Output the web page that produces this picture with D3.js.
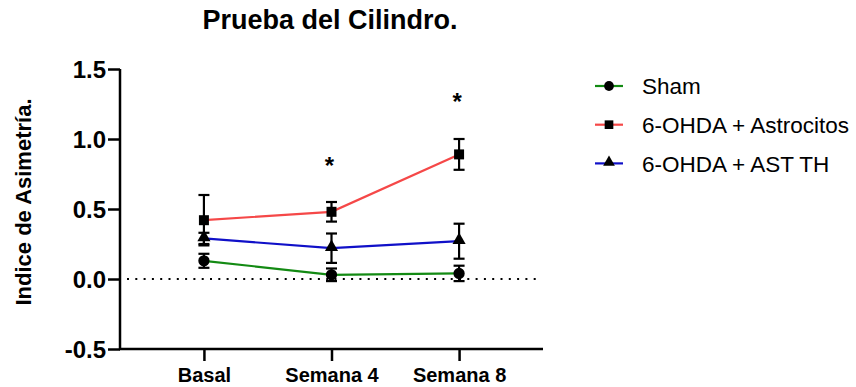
<!DOCTYPE html>
<html>
<head>
<meta charset="utf-8">
<script src="https://cdn.jsdelivr.net/npm/d3@7"></script>
<style>
  body { margin: 0; background: #fff; }
  text { font-family: "Liberation Sans", Arial, sans-serif; }
</style>
</head>
<body>
<script>
// weeks on the x axis
var categories = ["Basal", "Semana 4", "Semana 8"];
var seriesNames = ["Sham", "6-OHDA + Astrocitos", "6-OHDA + AST TH"];
var seriesColors = ["#138a13", "#f54848", "#1010c8"];
var seriesSymbols = ["circle", "square", "triangle"];

// means and SEM
var shamMean = [0.13, 0.03, 0.04];
var shamSem = [0.05, 0.045, 0.055];
var astroMean = [0.42, 0.48, 0.89];
var astroSem = [0.18, 0.07, 0.11];
var astThMean = [0.29, 0.22, 0.27];
var astThSem = [0.04, 0.105, 0.125];

// asterisk heights (in y units), null = none
var starLevel = [null, 0.85, 1.31];

var yTicks = [-0.5, 0.0, 0.5, 1.0, 1.5];
var yTickLabels = ["-0.5", "0.0", "0.5", "1.0", "1.5"];

var width = 856, height = 387;

var svg = d3.select("body").append("svg")
    .attr("width", width)
    .attr("height", height);

var x = d3.scalePoint().domain(categories).range([121, 542]).padding(0.65);
var y = d3.scaleLinear().domain([-0.5, 1.5]).range([349, 69]);

var series = [
    {name: seriesNames[0], mean: shamMean, sem: shamSem},
    {name: seriesNames[1], mean: astroMean, sem: astroSem},
    {name: seriesNames[2], mean: astThMean, sem: astThSem}
];
series.forEach(function(s, i) {
    s.color = seriesColors[i];
    s.symbol = seriesSymbols[i];
});

// title
svg.append("text")
    .attr("x", 330)
    .attr("y", 29)
    .attr("text-anchor", "middle")
    .style("font-size", "27px")
    .style("font-weight", "bold")
    .text("Prueba del Cilindro.");

// y axis label
svg.append("text")
    .attr("transform", "translate(31,202) rotate(-90)")
    .attr("text-anchor", "middle")
    .style("font-size", "22px")
    .style("font-weight", "bold")
    .text("Indice de Asimetría.");

// zero reference line
svg.append("line")
    .attr("x1", 127).attr("x2", 536)
    .attr("y1", y(0)).attr("y2", y(0))
    .style("stroke", "#000")
    .style("stroke-width", 2)
    .style("stroke-dasharray", "2,6.3");

// axes
var yAxis = d3.axisLeft(y).tickValues(yTicks).tickSize(12)
    .tickFormat(function(d, i) { return yTickLabels[i]; });
var gy = svg.append("g")
    .attr("transform", "translate(120,0)")
    .call(yAxis);
gy.select(".domain").attr("d", "M0," + y(1.5) + "V" + y(-0.5));
gy.selectAll("line, path").style("stroke", "#000").style("stroke-width", 2.5);
gy.selectAll("text")
    .attr("x", -14)
    .attr("dy", "0.36em")
    .style("font-size", "24px")
    .style("font-weight", "bold")
    .style("fill", "#000");

var xAxis = d3.axisBottom(x).tickSize(12).tickSizeOuter(0);
var gx = svg.append("g")
    .attr("transform", "translate(0," + y(-0.5) + ")")
    .call(xAxis);
gx.select(".domain").attr("d", "M119,0H543");
gx.selectAll("line, path").style("stroke", "#000").style("stroke-width", 2.5);
gx.selectAll("text")
    .attr("y", 19)
    .attr("dy", "0.71em")
    .style("font-size", "20px")
    .style("font-weight", "bold")
    .style("fill", "#000");

// series lines
var line = d3.line()
    .x(function(d, i) { return x(categories[i]); })
    .y(function(d) { return y(d); });

series.forEach(function(s) {
    svg.append("path")
        .datum(s.mean)
        .attr("d", line)
        .style("fill", "none")
        .style("stroke", s.color)
        .style("stroke-width", 2.2);
});

function symbolPath(kind, size) {
    var t = kind == "circle" ? d3.symbolCircle :
            kind == "square" ? d3.symbolSquare : d3.symbolTriangle;
    return d3.symbol().type(t).size(size)();
}

// error bars and markers
series.forEach(function(s) {
    var g = svg.append("g");
    s.mean.forEach(function(m, i) {
        var cx = x(categories[i]);
        var top = y(m + s.sem[i]), bot = y(m - s.sem[i]);
        g.append("line")
            .attr("x1", cx).attr("x2", cx)
            .attr("y1", top).attr("y2", bot)
            .style("stroke", "#000").style("stroke-width", 2.2);
        [top, bot].forEach(function(yy) {
            g.append("line")
                .attr("x1", cx - 5.5).attr("x2", cx + 5.5)
                .attr("y1", yy).attr("y2", yy)
                .style("stroke", "#000").style("stroke-width", 2.2);
        });
        g.append("path")
            .attr("d", symbolPath(s.symbol, s.symbol == "triangle" ? 75 : 100))
            .attr("transform", "translate(" + cx + "," +
                  (y(m) + (s.symbol == "triangle" ? -1 : 0)) + ")")
            .style("fill", "#000");
    });
});

// significance marks
starLevel.forEach(function(v, i) {
    if (v == null) return;
    svg.append("text")
        .attr("x", x(categories[i]) - 2)
        .attr("y", y(v) + 14)
        .attr("text-anchor", "middle")
        .style("font-size", "24px")
        .style("font-weight", "bold")
        .text("*");
});

// legend
var legend = svg.append("g").attr("transform", "translate(595,86)");
series.forEach(function(s, i) {
    var row = legend.append("g").attr("transform", "translate(0," + (i * 38.7) + ")");
    row.append("line")
        .attr("x1", 0).attr("x2", 28)
        .style("stroke", s.color).style("stroke-width", 2.2);
    row.append("path")
        .attr("d", symbolPath(s.symbol, s.symbol == "triangle" ? 60 : 75))
        .attr("transform", "translate(14," + (s.symbol == "triangle" ? -1 : 0) + ")")
        .style("fill", "#000");
    row.append("text")
        .attr("x", 47)
        .attr("y", 0)
        .attr("dy", "0.36em")
        .style("font-size", "22.5px")
        .text(s.name);
});
</script>
</body>
</html>
